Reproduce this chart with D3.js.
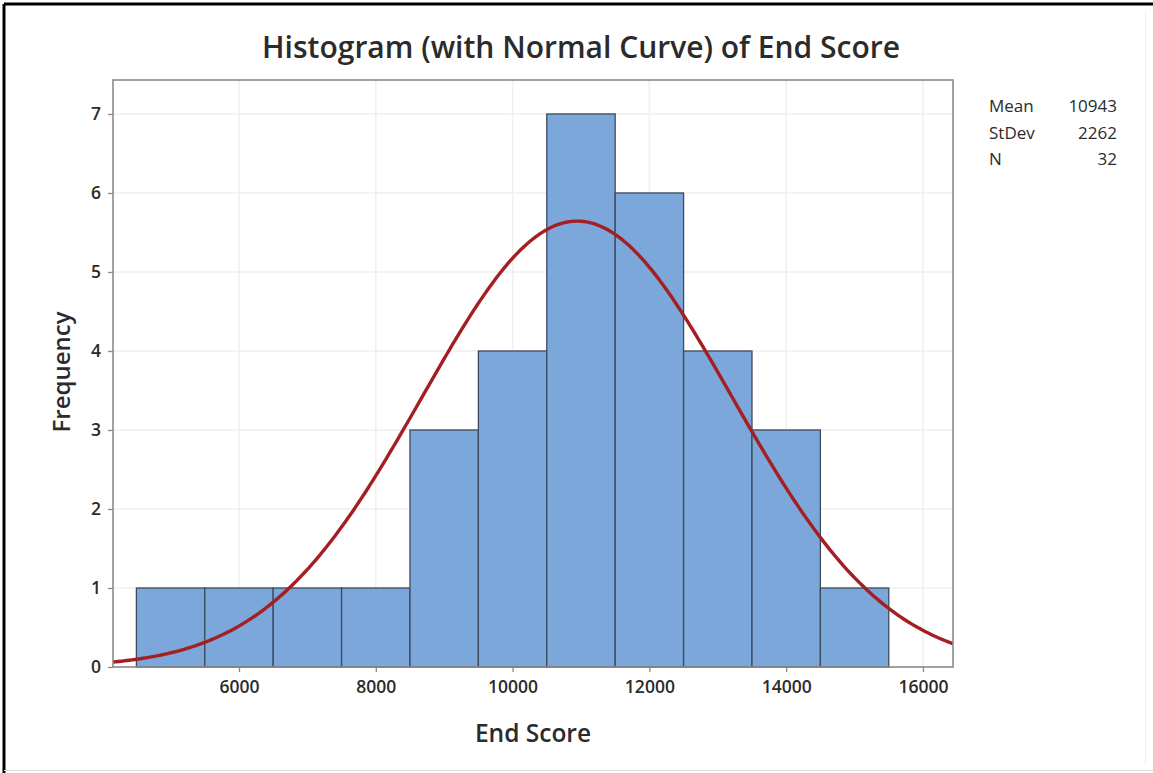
<!DOCTYPE html>
<html>
  <head>
    <meta charset="utf-8">
    <style>
      html, body {
        margin: 0px;
        padding: 0px;
        background: #fff;
      }
      svg {
        display: block;
      }
      text {
        font-family: "Open Sans", "Noto Sans", sans-serif;
        fill: #2b2b2b;
      }
    </style>
  </head>
  <body>
    <script src="https://cdnjs.cloudflare.com/ajax/libs/d3/7.8.5/d3.min.js" charset="utf-8"></script>
    <script>
      // bins of End Score (centre values) and how many fall in each
      const binMids = [5000, 6000, 7000, 8000, 9000, 10000, 11000, 12000, 13000, 14000, 15000];
      const binCounts = [1, 1, 1, 1, 3, 4, 7, 6, 4, 3, 1];
      const binWidth = 1000;
      const xTicks = [6000, 8000, 10000, 12000, 14000, 16000];
      const yTicks = [0, 1, 2, 3, 4, 5, 6, 7];
      const statLabels = ["Mean", "StDev", "N"];
      const statValues = [10943, 2262, 32];

      const W = 1153, H = 773;
      const plot = {left: 113, top: 80, right: 953, bottom: 667};

      const svg = d3.select("body").append("svg")
        .attr("width", W)
        .attr("height", H);

      // outer frame like the screenshot
      svg.append("line").attr("x1", 4).attr("x2", W).attr("y1", 4).attr("y2", 4)
        .attr("stroke", "#000").attr("stroke-width", 3);
      svg.append("line").attr("x1", 4).attr("x2", 4).attr("y1", 4).attr("y2", H)
        .attr("stroke", "#000").attr("stroke-width", 3);
      svg.append("line").attr("x1", 4).attr("x2", W).attr("y1", 770.5).attr("y2", 770.5)
        .attr("stroke", "#ddd").attr("stroke-width", 1);
      svg.append("line").attr("x1", 1145.5).attr("x2", 1145.5).attr("y1", 10).attr("y2", 765)
        .attr("stroke", "#f0f0f0").attr("stroke-width", 1);

      const x = d3.scaleLinear().domain([4158, 16439]).range([plot.left, plot.right]);
      const y = d3.scaleLinear().domain([0, 7.43]).range([plot.bottom, plot.top]);

      // grid
      const grid = svg.append("g");
      grid.selectAll(".vg").data(xTicks).join("line")
        .attr("x1", d => x(d)).attr("x2", d => x(d))
        .attr("y1", plot.top).attr("y2", plot.bottom)
        .attr("stroke", "#efefef").attr("stroke-width", 1.5);
      grid.selectAll(".hg").data(yTicks.slice(1)).join("line")
        .attr("x1", plot.left).attr("x2", plot.right)
        .attr("y1", d => y(d)).attr("y2", d => y(d))
        .attr("stroke", "#efefef").attr("stroke-width", 1.5);

      // bars
      svg.append("g").selectAll("rect").data(binMids).join("rect")
        .attr("x", d => x(d - binWidth / 2))
        .attr("width", d => x(d + binWidth / 2) - x(d - binWidth / 2))
        .attr("y", (d, i) => y(binCounts[i]))
        .attr("height", (d, i) => y(0) - y(binCounts[i]))
        .attr("fill", "#7ba7da")
        .attr("stroke", "#3c4a5c")
        .attr("stroke-width", 1.3);

      // fitted normal curve scaled to counts
      const mean = statValues[0], sd = statValues[1], n = statValues[2];
      const pdf = v => n * binWidth / (sd * Math.sqrt(2 * Math.PI)) * Math.exp(-0.5 * Math.pow((v - mean) / sd, 2));
      const curveX = d3.range(x.domain()[0], x.domain()[1] + 1, 40);
      svg.append("defs").append("clipPath").attr("id", "clip")
        .append("rect").attr("x", plot.left).attr("y", plot.top)
        .attr("width", plot.right - plot.left).attr("height", plot.bottom - plot.top);
      svg.append("path")
        .datum(curveX)
        .attr("clip-path", "url(#clip)")
        .attr("d", d3.line().x(d => x(d)).y(d => y(pdf(d))))
        .attr("fill", "none")
        .attr("stroke", "#a51e22")
        .attr("stroke-width", 3.4);

      // plot frame
      svg.append("rect")
        .attr("x", plot.left).attr("y", plot.top)
        .attr("width", plot.right - plot.left).attr("height", plot.bottom - plot.top)
        .attr("fill", "none").attr("stroke", "#8a8a8a").attr("stroke-width", 1.6);

      // axes
      const xAxis = svg.append("g")
        .attr("transform", `translate(0,${plot.bottom})`)
        .call(d3.axisBottom(x).tickValues(xTicks).tickSize(5).tickPadding(9).tickFormat(d3.format("d")));
      const yAxis = svg.append("g")
        .attr("transform", `translate(${plot.left},0)`)
        .call(d3.axisLeft(y).tickValues(yTicks).tickSize(5).tickPadding(7).tickFormat(d3.format("d")));
      [xAxis, yAxis].forEach(a => {
        a.select(".domain").remove();
        a.selectAll(".tick line").attr("stroke", "#8a8a8a").attr("stroke-width", 1.3);
        a.selectAll(".tick text").attr("fill", "#2b2b2b")
          .style("font-size", "17.5px").style("font-weight", "600");
      });

      // titles
      svg.append("text")
        .attr("x", 581).attr("y", 58)
        .attr("text-anchor", "middle")
        .style("font-size", "30px").style("font-weight", "600")
        .text("Histogram (with Normal Curve) of End Score");
      svg.append("text")
        .attr("x", 533).attr("y", 742)
        .attr("text-anchor", "middle")
        .style("font-size", "24.5px").style("font-weight", "600")
        .text("End Score");
      svg.append("text")
        .attr("transform", "translate(70,372) rotate(-90)")
        .attr("text-anchor", "middle")
        .style("font-size", "24px").style("font-weight", "600")
        .text("Frequency");

      // stats table
      const stats = svg.append("g");
      statLabels.forEach((lab, i) => {
        stats.append("text").attr("x", 989).attr("y", 112 + i * 26.5)
          .style("font-size", "17px").text(lab);
        stats.append("text").attr("x", 1117).attr("y", 112 + i * 26.5)
          .attr("text-anchor", "end")
          .style("font-size", "17px").text(statValues[i]);
      });
    </script>
  </body>
</html>
